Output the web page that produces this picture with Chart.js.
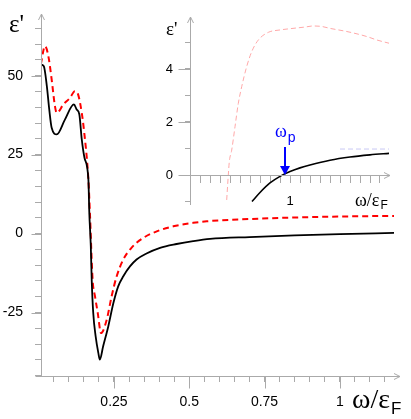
<!DOCTYPE html>
<html>
<head>
<meta charset="utf-8">
<script src="https://cdn.jsdelivr.net/npm/chart.js@4.4.0/dist/chart.umd.min.js"></script>
<style>
  html, body { margin: 0; padding: 0; background: #fff; }
  #wrap { position: relative; width: 411px; height: 419px; }
  #main { position: absolute; left: 0; top: 0; }
  #inset { position: absolute; left: 150px; top: 0; }
</style>
</head>
<body>
<div id="wrap">
  <canvas id="main" width="411" height="419"></canvas>
  <canvas id="inset" width="261" height="224"></canvas>
</div>
<script>
// main panel, eps' against omega/eps_F
const blackX = [0.008, 0.017, 0.027, 0.035, 0.043, 0.060, 0.087, 0.117, 0.126, 0.135, 0.143, 0.152, 0.165, 0.168, 0.173, 0.176, 0.181, 0.189, 0.198, 0.203, 0.214, 0.231, 0.248, 0.264, 0.281, 0.303, 0.325, 0.358, 0.403, 0.458, 0.513, 0.569, 0.70, 0.85, 1.0, 1.18];
const blackY = [53.5, 53.0, 46.7, 39.3, 33.5, 31.4, 36.1, 40.9, 39.3, 37.7, 29.8, 24.0, 17.1, 6.7, -4.0, -14.6, -25.0, -32.5, -37.8, -39.9, -35.7, -29.4, -22.0, -16.7, -13.5, -10.4, -8.2, -6.3, -4.5, -3.3, -2.4, -1.7, -1.1, -0.6, -0.2, 0.2];
const redX = [0.007, 0.021, 0.032, 0.043, 0.054, 0.060, 0.082, 0.104, 0.120, 0.131, 0.143, 0.150, 0.165, 0.170, 0.179, 0.187, 0.196, 0.207, 0.226, 0.242, 0.259, 0.281, 0.308, 0.347, 0.392, 0.447, 0.513, 0.558, 0.70, 0.85, 1.0, 1.18];
const redY = [53.6, 59.4, 56.2, 48.8, 40.3, 38.2, 40.9, 43.0, 45.1, 44.0, 38.2, 33.0, 17.1, 6.7, -14.6, -19.9, -25.1, -31.5, -27.2, -19.9, -13.5, -8.2, -4.5, -1.4, 0.7, 2.3, 3.4, 3.9, 4.6, 5.1, 5.4, 5.6];
const mainXLabels = [0.25, 0.5, 0.75, 1];
const mainYLabels = [50, 25, 0, -25];

// inset
const insetBlackX = [0.62, 0.70, 0.80, 0.90, 1.00, 1.10, 1.20, 1.40, 1.60, 1.80, 2.00];
const insetBlackY = [-1.0, -0.66, -0.30, -0.05, 0.13, 0.27, 0.38, 0.56, 0.68, 0.76, 0.82];
const insetRedX = [0.367, 0.383, 0.393, 0.417, 0.45, 0.483, 0.517, 0.567, 0.617, 0.683, 0.783, 0.90, 1.03, 1.15, 1.23, 1.32, 1.40, 1.57, 1.77, 1.87, 1.99];
const insetRedY = [-0.94, 0.0, 0.5, 0.94, 1.82, 2.7, 3.33, 4.09, 4.65, 5.09, 5.38, 5.47, 5.53, 5.58, 5.62, 5.6, 5.53, 5.41, 5.22, 5.09, 4.97];
const insetBlueX = [1.5, 1.99];
const insetBlueY = [0.98, 0.98];
const insetXLabels = [1];
const insetYLabels = [4, 2, 0];
const omegaP = 0.95;

const GRAY = '#aaaaaa';
const SANS = '"Liberation Sans", Arial, sans-serif';
const SERIF = '"Liberation Serif", "Times New Roman", serif';

Chart.defaults.font.family = SANS;
Chart.defaults.color = '#000';

const toPoints = (xs, ys) => xs.map((x, i) => ({ x: x, y: ys[i] }));
const isIn = (list, v) => list.some(t => Math.abs(t - v) < 1e-6);
const px = v => Math.round(v) + 0.5;

function line(ctx, x1, y1, x2, y2) {
  ctx.beginPath();
  ctx.moveTo(x1, y1);
  ctx.lineTo(x2, y2);
  ctx.stroke();
}

// text followed by a sans subscript
function withSub(ctx, main, mainFont, sub, subFont, x, y, drop) {
  ctx.font = mainFont;
  ctx.fillText(main, x, y);
  const w = ctx.measureText(main).width;
  ctx.font = subFont;
  ctx.fillText(sub, x + w + 1, y + drop);
}

// axis lines with open arrow heads, the longer major ticks and titles
const mainExtras = {
  id: 'mainExtras',
  afterDraw(chart) {
    const { ctx, chartArea: a, scales: { x, y } } = chart;
    ctx.save();
    ctx.strokeStyle = GRAY;
    ctx.lineWidth = 1;
    const L = px(a.left), B = px(a.bottom);
    line(ctx, L, B, L, a.top - 8);
    line(ctx, L - 3, a.top - 2, L, a.top - 8);
    line(ctx, L + 3, a.top - 2, L, a.top - 8);
    const xr = a.right + 6;
    line(ctx, L - 6, B, xr, B);
    line(ctx, xr - 6, B - 3, xr, B);
    line(ctx, xr - 6, B + 3, xr, B);
    mainYLabels.forEach(v => {
      const yy = px(y.getPixelForValue(v));
      line(ctx, L - 10, yy, L, yy);
    });
    mainXLabels.forEach(v => {
      const xx = px(x.getPixelForValue(v));
      line(ctx, xx, B, xx, B + 12);
    });
    ctx.fillStyle = '#000';
    ctx.textBaseline = 'alphabetic';
    ctx.font = '25px ' + SERIF;
    ctx.fillText("\u03b5'", 9, 32);
    withSub(ctx, '\u03c9/\u03b5', '28px ' + SERIF, 'F', '17px ' + SANS, 352, 408, 6);
    ctx.restore();
  }
};

const insetExtras = {
  id: 'insetExtras',
  afterDraw(chart) {
    const { ctx, chartArea: a, scales: { x, y } } = chart;
    ctx.save();
    ctx.strokeStyle = GRAY;
    ctx.lineWidth = 1;
    const L = px(a.left), Z = px(y.getPixelForValue(0));
    line(ctx, L, a.bottom, L, a.top - 5);
    line(ctx, L - 3, a.top + 1, L, a.top - 5);
    line(ctx, L + 3, a.top + 1, L, a.top - 5);
    const xr = a.right + 1;
    line(ctx, L - 2, Z, xr, Z);
    line(ctx, xr - 6, Z - 3, xr, Z);
    line(ctx, xr - 6, Z + 3, xr, Z);
    insetYLabels.forEach(v => {
      const yy = px(y.getPixelForValue(v));
      line(ctx, L - 12, yy, L, yy);
    });
    // omega_p marker
    const ax = x.getPixelForValue(omegaP);
    const top = y.getPixelForValue(1.06), tip = y.getPixelForValue(0);
    ctx.strokeStyle = '#0000ff';
    ctx.fillStyle = '#0000ff';
    ctx.lineWidth = 2;
    line(ctx, ax, top, ax, tip - 8);
    ctx.beginPath();
    ctx.moveTo(ax - 5, tip - 9);
    ctx.lineTo(ax + 5, tip - 9);
    ctx.lineTo(ax, tip);
    ctx.closePath();
    ctx.fill();
    withSub(ctx, '\u03c9', '18px ' + SERIF, 'p', '14px ' + SANS, ax - 10, top - 10, 5);
    ctx.fillStyle = '#000';
    ctx.font = '19px ' + SERIF;
    ctx.fillText("\u03b5'", 16, 35);
    withSub(ctx, '\u03c9/\u03b5', '18px ' + SERIF, 'F', '12px ' + SANS, 205, Z + 30, 3);
    ctx.restore();
  }
};

new Chart(document.getElementById('main'), {
  type: 'line',
  data: {
    datasets: [
      { data: toPoints(blackX, blackY), borderColor: '#000', borderWidth: 1.8, pointRadius: 0, cubicInterpolationMode: 'monotone' },
      { data: toPoints(redX, redY), borderColor: '#ff0000', borderWidth: 2, borderDash: [6, 4], pointRadius: 0, cubicInterpolationMode: 'monotone' }
    ]
  },
  options: {
    responsive: false,
    animation: false,
    events: [],
    layout: { padding: { top: 22, right: 17, left: 0, bottom: 0 } },
    plugins: { legend: { display: false }, tooltip: { enabled: false } },
    scales: {
      x: {
        type: 'linear', position: 'bottom', min: 0.0076, max: 1.18,
        afterFit(s) { s.height = 43; },
        border: { color: GRAY },
        grid: { drawOnChartArea: false, color: GRAY, tickLength: 6 },
        ticks: {
          stepSize: 0.05, includeBounds: false, autoSkip: false, maxRotation: 0,
          padding: 12, font: { size: 14 },
          callback: v => isIn(mainXLabels, v) ? String(Math.round(v * 100) / 100) : ''
        }
      },
      y: {
        type: 'linear', position: 'left', min: -45.1, max: 67,
        afterFit(s) { s.width = 41; },
        border: { color: GRAY },
        grid: { drawOnChartArea: false, color: GRAY, tickLength: 6 },
        ticks: {
          stepSize: 5, includeBounds: false, autoSkip: false,
          padding: 12, font: { size: 14 },
          callback: v => isIn(mainYLabels, v) ? String(Math.round(v)) : ''
        }
      }
    }
  },
  plugins: [mainExtras]
});

new Chart(document.getElementById('inset'), {
  type: 'line',
  data: {
    datasets: [
      { data: toPoints(insetBlackX, insetBlackY), borderColor: '#000', borderWidth: 1.6, pointRadius: 0, cubicInterpolationMode: 'monotone' },
      { data: toPoints(insetRedX, insetRedY), borderColor: '#ffa8a8', borderWidth: 1, borderDash: [5, 3], pointRadius: 0, cubicInterpolationMode: 'monotone' },
      { data: toPoints(insetBlueX, insetBlueY), borderColor: '#c8c8f4', borderWidth: 1, borderDash: [5, 3], pointRadius: 0 }
    ]
  },
  options: {
    responsive: false,
    animation: false,
    events: [],
    layout: { padding: { top: 22, right: 22, left: 0, bottom: 0 } },
    plugins: { legend: { display: false }, tooltip: { enabled: false } },
    scales: {
      x: {
        type: 'linear', position: { y: 0 }, min: 0, max: 1.99,
        border: { color: GRAY },
        grid: { drawOnChartArea: false, color: GRAY, tickLength: 7 },
        ticks: {
          stepSize: 0.1, includeBounds: false, autoSkip: false, maxRotation: 0,
          padding: 12, font: { size: 13 },
          callback: v => isIn(insetXLabels, v) ? String(Math.round(v)) : ''
        }
      },
      y: {
        type: 'linear', position: 'left', min: -1.1, max: 5.77,
        afterFit(s) { s.width = 40; },
        border: { color: GRAY },
        grid: { drawOnChartArea: false, color: GRAY, tickLength: 5 },
        ticks: {
          stepSize: 1, includeBounds: false, autoSkip: false,
          padding: 12, font: { size: 13 },
          callback: v => isIn(insetYLabels, v) ? String(Math.round(v)) : ''
        }
      }
    }
  },
  plugins: [insetExtras]
});
</script>
</body>
</html>
